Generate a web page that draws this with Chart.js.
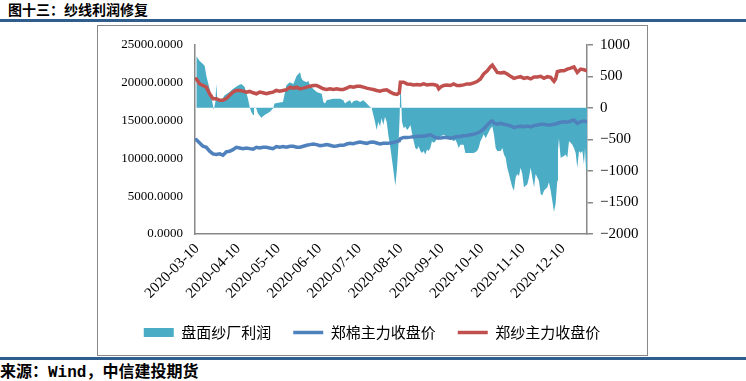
<!DOCTYPE html>
<html>
<head>
<meta charset="utf-8">
<script src="https://cdn.jsdelivr.net/npm/chart.js"></script>
<style>
  body { margin: 0; background: #fff; }
  #wrap { position: relative; width: 746px; height: 381px; overflow: hidden; }
  .title { position: absolute; left: 8px; top: 0; font: bold 14px "Noto Sans CJK SC"; line-height: 19px; color: #000; }
  .rule { position: absolute; left: 0; width: 746px; height: 3px; background: #2f5d8e; }
  .box { position: absolute; left: 97px; top: 25px; width: 551px; height: 331px; border: 1px solid #888; box-sizing: border-box; }
  #myChart { position: absolute; left: 97px; top: 25px; }
  .source { position: absolute; left: 0; top: 364px; font: bold 16px "Liberation Mono", "Noto Sans CJK SC"; line-height: 18px; color: #000; }
</style>
</head>
<body>
<div id="wrap">
  <div class="title">图十三：纱线利润修复</div>
  <div class="rule" style="top:19px"></div>
  <div class="box"></div>
  <canvas id="myChart" width="550" height="330"></canvas>
  <div class="rule" style="top:357px"></div>
  <div class="source">来源：Wind，中信建投期货</div>
</div>
<script>
// x positions are days after 2020-03-10
const tickDays = [0, 31, 61, 92, 122, 153, 184, 214, 245, 275];
const tickLabels = ['2020-03-10', '2020-04-10', '2020-05-10', '2020-06-10', '2020-07-10',
                    '2020-08-10', '2020-09-10', '2020-10-10', '2020-11-10', '2020-12-10'];

const priceDays = [
  -0.5, 2.0, 4.5, 7.0, 9.5, 12.0, 14.5, 17.0, 19.5, 22.0, 24.5, 27.0, 29.5, 32.1, 34.6, 37.1, 39.6, 42.1, 44.6, 47.1,
  49.6, 52.1, 54.6, 57.1, 59.6, 62.1, 64.6, 67.1,
  69.9, 72.4, 74.9, 77.4, 79.9, 82.4, 84.9, 87.4, 89.9, 92.4, 94.9, 97.4, 99.9, 102.4, 104.9, 107.4, 110.0, 112.5,
  115.0, 117.5, 120.0, 122.5, 125.0, 127.5, 130.0, 132.5, 135.0, 137.5, 140.0, 142.5,
  145.3, 147.8, 150.3, 152.0, 152.8, 155.3, 157.8, 160.3, 162.8, 165.3, 167.8, 170.3, 172.8, 175.3, 177.8, 180.3,
  181.6, 182.8, 185.3, 187.8, 190.3, 192.8, 195.3, 197.8, 200.3, 202.9, 205.4, 207.9, 210.4, 212.9, 215.4,
  218.1, 220.6, 221.9, 223.1, 225.6, 228.1, 230.6, 233.1, 235.6, 238.1, 240.6, 243.1, 245.6, 248.2, 250.7, 253.2,
  255.7, 258.2, 260.7, 263.2, 265.7, 268.2, 269.4, 270.7, 273.2, 275.7, 278.2, 280.7, 283.2, 285.7, 288.2, 290.7, 293
];

// 郑纱主力收盘价
const yarn = [
  20490, 19830, 19620, 19400, 18530, 17880, 17880, 17660, 17660, 17880, 18320, 18750, 18970, 18970, 18880, 18750,
  18840, 18660, 18530, 18750, 18660, 18530, 18660, 18750, 18970, 18880, 18970, 19050,
  19400, 19270, 19400, 19180, 19270, 19400, 19530, 19620, 19620, 19400, 19180, 19100, 19180, 19100, 19180, 19100,
  19100, 19270, 19490, 19400, 19530, 19530, 19400, 19270, 19180, 19100, 18970, 18880, 19010, 19050,
  18750, 18530, 18450, 18660, 20050, 20050, 19830, 19790, 19700, 19750, 19700, 19830, 19700, 19750, 19750, 19620,
  19180, 19400, 19620, 19700, 19620, 19830, 19620, 19620, 19700, 19830, 19830, 19960, 20140, 20490, 21140,
  21570, 22130, 22310, 22000, 21350, 21270, 21350, 21140, 20830, 20570, 20700, 20790, 20570, 20660, 20490, 20750,
  20750, 20830, 20570, 20790, 20700, 20180, 20490, 21440, 21570, 21570, 21790, 21920, 22090, 21350, 21790, 21700, 21570
];

// 郑棉主力收盘价
const cotton = [
  12460, 12020, 11590, 11460, 10940, 10590, 10500, 10590, 10420, 10850, 10940, 11150, 11460, 11370, 11280, 11370,
  11280, 11200, 11460, 11370, 11460, 11460, 11370, 11280, 11550, 11460, 11550, 11460,
  11590, 11590, 11460, 11460, 11590, 11720, 11810, 11890, 11810, 11680, 11720, 11810, 11720, 11590, 11630, 11720,
  11720, 11890, 11980, 11940, 12070, 12150, 12070, 11980, 12110, 12150, 12020, 11890, 11980, 11980,
  12020, 12110, 12240, 12330, 12590, 12760, 12760, 12800, 12850, 12890, 12930, 12930, 13020, 13110, 12890, 12670,
  12670, 12670, 12760, 12760, 12670, 12760, 12890, 12890, 12980, 13020, 13110, 13190, 13320, 13540, 13890,
  14410, 14840, 14930, 14630, 14500, 14630, 14500, 14410, 14280, 14060, 14190, 14240, 14190, 14280, 14150, 14320,
  14410, 14500, 14500, 14410, 14410, 14500, 14540, 14630, 14760, 14840, 14760, 14930, 15060, 14630, 14840, 14930, 14840
];

// 盘面纱厂利润 (right axis)
const profitDays = [
  -0.5, 2.0, 4.5, 5.8, 7.0, 9.5, 12.0, 12.5, 13.8, 14.5, 15.3, 17.0, 18.3, 20.8, 24.5, 27.0, 30.8, 33.3, 35.8, 38.3,
  39.6, 40.8, 42.1, 42.8, 44.6, 45.8, 48.3, 50.8, 54.6, 57.1, 58.3, 62.1, 64.6, 67.1, 69.6,
  72.4, 74.9, 77.4, 78.6, 79.9, 82.4, 83.6, 84.9, 87.4, 89.9, 93.7, 94.9, 96.2, 97.4, 102.4, 107.4, 110.0, 111.2,
  112.4, 115.0, 116.2, 117.5, 120.0, 122.5, 125.0, 127.5, 130.0, 131.2, 132.5, 133.7, 135.0, 136.2, 137.5, 138.7,
  140.0, 141.2, 142.5, 143.7, 144.5,
  145.3, 147.3, 149.0, 150.3, 151.5, 152.3, 152.8, 153.3, 154.0, 155.3, 156.5, 157.8, 159.0, 160.3, 161.5, 162.8,
  164.0, 165.3, 166.5, 167.8, 169.0, 170.3, 171.5, 172.8, 174.0, 175.3, 176.5, 177.8, 179.1, 180.3, 181.6, 182.8,
  185.3, 187.8, 190.3, 192.8, 194.1, 195.3, 196.6, 197.8, 200.3, 201.6, 205.3, 207.9, 210.4, 211.6, 212.9, 214.1, 215.4,
  216.9, 218.1, 220.6, 221.9, 223.1, 224.4, 225.6, 228.1, 229.4, 230.6, 231.9, 233.1, 234.4, 235.6, 236.9, 238.1,
  239.4, 240.6, 241.9, 243.1, 244.4, 245.6, 246.9, 248.2, 249.4, 250.7, 251.9, 253.2, 254.4, 255.7, 256.9, 258.2,
  259.4, 260.7, 263.2, 264.4, 265.7, 266.9, 268.2, 269.4, 270.7, 271.2, 271.9, 273.2, 275.7, 276.9, 278.2, 279.5,
  280.7, 282.0, 283.2, 284.5, 285.7, 287.0, 288.2, 289.5, 290.7, 291.5, 292.2, 293
];
const profit = [
  820, 745, 695, 665, 510, 300, 40, -35, 95, 380, 120, 95, 120, 200, 250, 300, 355, 380, 330, 145,
  15, -65, -115, 15, -10, -90, -155, -115, -65, -10, 70, 85, 95, 355, 405,
  380, 510, 565, 460, 430, 405, 430, 355, 300, 250, 225, 95, 70, 120, 145, 145, 120, 70,
  95, 120, 70, 105, 120, 95, 120, 70, 15, 0, -115, -220, -350, -220, -295, -165,
  -270, -140, -220, -425, -530,
  -635, -950, -1235, -950, -530, -115, 460, 200, -220, -325, -295, -350, -325, -270, -400, -530,
  -635, -660, -610, -685, -715, -685, -740, -660, -685, -635, -530, -555, -530, -480, -505, -455,
  -425, -455, -480, -530, -505, -555, -635, -585, -585, -715, -715, -715, -685, -635, -530, -480, -420,
  -480, -425, -325, -295, -425, -635, -685, -685, -635, -740, -790, -950, -1050, -1155, -1260, -1310,
  -1105, -1050, -1080, -950, -1050, -1260, -1235, -1210, -1105, -950, -1105, -1260, -1050, -1105, -1155, -1365,
  -1390, -1310, -1260, -1180, -1310, -1470, -1650, -1520, -1155, -685, -480, -790, -765, -740, -790, -530,
  -555, -585, -635, -715, -950, -685, -715, -685, -895, -635, -950, -1000
];

const toPoints = (xs, ys) => xs.map((x, i) => ({ x: x, y: ys[i] }));
const serif = '"Liberation Serif", "Times New Roman", serif';

const data = {
  datasets: [{
    label: '盘面纱厂利润',
    data: toPoints(profitDays, profit),
    yAxisID: 'y1',
    fill: 'origin',
    backgroundColor: '#4BACC6',
    borderColor: '#4BACC6',
    borderWidth: 0,
    pointRadius: 0,
    pointStyle: 'rect',
    order: 3
  }, {
    label: '郑棉主力收盘价',
    data: toPoints(priceDays, cotton),
    yAxisID: 'y',
    borderColor: '#4F81BD',
    backgroundColor: '#4F81BD',
    borderWidth: 3.5,
    borderCapStyle: 'round',
    pointRadius: 0,
    pointStyle: 'line',
    order: 1
  }, {
    label: '郑纱主力收盘价',
    data: toPoints(priceDays, yarn),
    yAxisID: 'y',
    borderColor: '#C0504D',
    backgroundColor: '#C0504D',
    borderWidth: 3.5,
    borderCapStyle: 'round',
    pointRadius: 0,
    pointStyle: 'line',
    order: 2
  }]
};

const config = {
  type: 'line',
  data: data,
  options: {
    responsive: false,
    animation: false,
    layout: { padding: { top: 17, bottom: 5, left: 0, right: 0 }, autoPadding: false },
    plugins: {
      tooltip: { enabled: false },
      legend: {
        position: 'bottom',
        labels: {
          usePointStyle: true,
          pointStyleWidth: 30,
          boxHeight: 9,
          padding: 22,
          color: '#000',
          font: { family: '"Noto Sans CJK SC"', size: 15 },
          sort: (a, b) => a.datasetIndex - b.datasetIndex
        }
      }
    },
    scales: {
      x: {
        type: 'linear',
        min: -1.5,
        max: 293,
        afterBuildTicks: s => { s.ticks = tickDays.map(v => ({ value: v })); },
        afterFit: s => { s.height = 69; },
        ticks: {
          autoSkip: false,
          minRotation: 45,
          maxRotation: 45,
          padding: 6,
          color: '#000',
          font: { family: serif, size: 15 },
          callback: (v, i) => tickLabels[i]
        },
        grid: { drawOnChartArea: false, drawTicks: false },
        border: { color: '#888', width: 1.5 }
      },
      y: {
        position: 'left',
        min: 0,
        max: 25000,
        afterFit: s => { s.width = 98; },
        ticks: {
          stepSize: 5000,
          padding: 12,
          color: '#000',
          font: { family: serif, size: 13 },
          callback: v => v.toFixed(4)
        },
        grid: { drawOnChartArea: false, drawTicks: false },
        border: { color: '#888', width: 1.5 }
      },
      y1: {
        position: 'right',
        min: -2000,
        max: 1000,
        afterFit: s => { s.width = 60; },
        ticks: {
          stepSize: 500,
          padding: 7,
          color: '#000',
          font: { family: serif, size: 15 },
          callback: v => (v < 0 ? '\u2212' : '') + Math.abs(v)
        },
        grid: { drawOnChartArea: false, drawTicks: true, tickLength: 6, color: '#888', lineWidth: 1.5 },
        border: { color: '#888', width: 1.5 }
      }
    }
  }
};

const myChart = new Chart(document.getElementById('myChart'), config);
</script>
</body>
</html>
